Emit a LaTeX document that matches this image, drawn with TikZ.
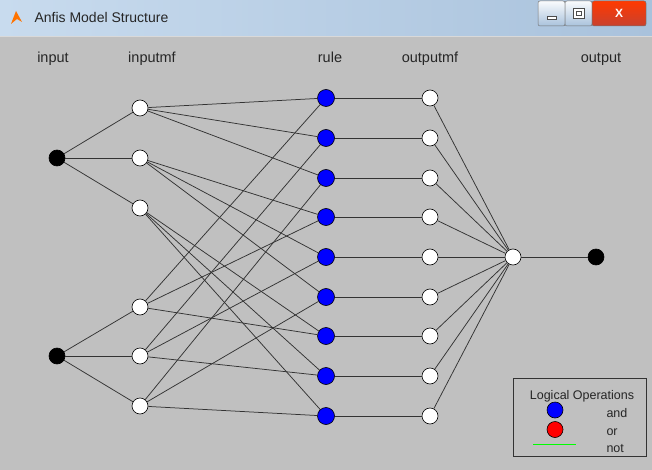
\documentclass[tikz,border=0pt]{standalone}
\usepackage{fontspec}
\setmainfont{Liberation Sans}
\definecolor{bg}{HTML}{C0C0C0}
\definecolor{tbA}{HTML}{C8DBEE}
\definecolor{tbB}{HTML}{A9C2DC}
\definecolor{edge}{HTML}{333333}
\definecolor{closered}{HTML}{C8412F}
\definecolor{legendgreen}{HTML}{00FF00}
\begin{document}
\begin{tikzpicture}[x=1pt,y=-1pt,
  nd/.style={circle,draw=black,line width=0.6pt,minimum size=16pt,inner sep=0pt},
  wnode/.style={nd,fill=white},
  bnode/.style={nd,fill=black},
  rnode/.style={nd,fill=blue,minimum size=17pt},
  conn/.style={draw=edge,line width=0.75pt},
  lbl/.style={font=\fontsize{14.5}{16}\selectfont,text=black!85,anchor=base},
  lgtext/.style={font=\fontsize{12.5}{14}\selectfont,text=black!85,anchor=base},
  btn/.style={draw=black!55,line width=0.5pt,rounded corners=2pt}]
\useasboundingbox (0,0) rectangle (652,470);
\fill[bg] (0,0) rectangle (652,470);
% title bar
\shade[left color=tbA,right color=tbB] (0,0) rectangle (652,36);
\draw[white!85!black,line width=1pt] (0,36.5) -- (652,36.5);
\fill[orange!90!red] (11,24) -- (16,11) -- (22,22) -- (17,19) -- cycle;
\node[anchor=base west,font=\fontsize{14}{16}\selectfont,text=black!85] (title) at (31,23) {Anfis Model Structure};
\shade[btn,top color=white!90!tbA,bottom color=tbB] (538,1) rectangle (565,26);
\shade[btn,top color=white!90!tbA,bottom color=tbB] (565,1) rectangle (592,26);
\shade[btn,top color=red!55!orange,bottom color=closered] (592,1) rectangle (646,26);
\draw[black!70,fill=white,line width=0.4pt] (547,16) rectangle (556,19);
\draw[black!70,fill=white,line width=0.4pt] (573,8) rectangle (584,18);
\draw[black!70,line width=0.4pt] (576,11) rectangle (581,15);
\node[font=\bfseries\fontsize{12}{13}\selectfont,text=white] (xbtn) at (619,13) {X};
% column labels
\node[lbl] (Linput) at (53,63) {input};
\node[lbl] (Linputmf) at (152,63) {inputmf};
\node[lbl] (Lrule) at (330,63) {rule};
\node[lbl] (Loutputmf) at (430,63) {outputmf};
\node[lbl] (Loutput) at (601,63) {output};
% nodes
\node[bnode] (i1) at (57,158) {};
\node[bnode] (i2) at (57,356) {};
\foreach \k/\y in {1/108,2/158,3/208,4/307,5/356,6/406}
  \node[wnode] (m\k) at (140,\y) {};
\foreach \k/\y in {1/98,2/138,3/178,4/217,5/257,6/297,7/336,8/376,9/416}{
  \node[rnode] (r\k) at (326,\y) {};
  \node[wnode] (o\k) at (430,\y) {};
}
\node[wnode] (agg) at (513,257) {};
\node[bnode] (out) at (596,257) {};
% connections
\foreach \k in {1,2,3} \draw[conn] (i1) -- (m\k);
\foreach \k in {4,5,6} \draw[conn] (i2) -- (m\k);
\foreach \k/\a/\b in {1/1/4,2/1/5,3/1/6,4/2/4,5/2/5,6/2/6,7/3/4,8/3/5,9/3/6}{
  \draw[conn] (m\a) -- (r\k);
  \draw[conn] (m\b) -- (r\k);
  \draw[conn] (r\k) -- (o\k);
  \draw[conn] (o\k) -- (agg);
}
\draw[conn] (agg) -- (out);
% legend
\draw[black!80,line width=0.8pt] (513,378) rectangle (646,456);
\node[lgtext] (lgtitle) at (582,399) {Logical Operations};
\node[nd,fill=blue,minimum size=16pt] (lgand) at (555,410) {};
\node[nd,fill=red,minimum size=16pt] (lgor) at (555,429.5) {};
\coordinate (lgA) at (533,444);
\coordinate (lgB) at (576,444);
\draw[legendgreen,line width=0.8pt] (lgA) -- (lgB);
\node[lgtext,anchor=base west] (tand) at (603,417) {and};
\node[lgtext,anchor=base west] (tor) at (603,435) {or};
\node[lgtext,anchor=base west] (tnot) at (603,452) {not};
\end{tikzpicture}
\end{document}
